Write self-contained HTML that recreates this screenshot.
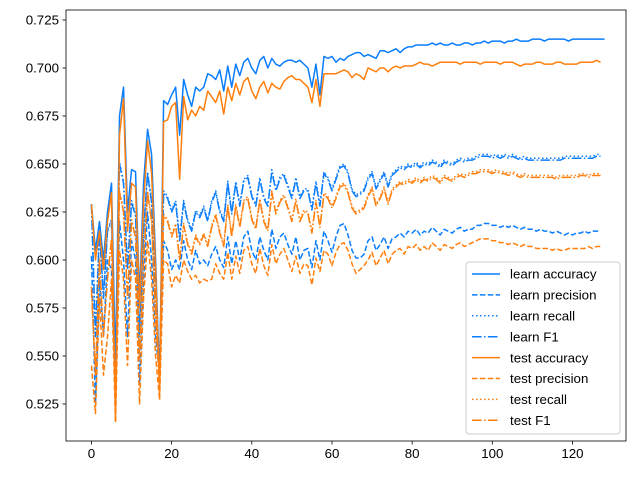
<!DOCTYPE html>
<html><head><meta charset="utf-8"><style>
body{margin:0;background:#fff;}
svg{display:block;font-family:"Liberation Sans","DejaVu Sans",sans-serif;}
</style></head><body>
<svg id="chart" width="640" height="480">
<rect width="640" height="480" fill="#fff"/>
<g id="axes"></g><g id="series"></g><g id="legend"></g>
<rect x="66" y="10" width="560" height="431" fill="none" stroke="#000" stroke-width="0.8"/>
</svg>
<script>
const seriesNames=["learn accuracy","learn precision","learn recall","learn F1","test accuracy","test precision","test recall","test F1"];
const learnAcc=[0.629,0.605,0.620,0.600,0.625,0.640,0.545,0.675,0.690,0.625,0.647,0.646,0.580,0.640,0.668,0.655,0.600,0.535,0.683,0.681,0.686,0.690,0.665,
0.694,0.686,0.680,0.690,0.688,0.690,0.697,0.696,0.694,0.699,0.688,0.701,0.690,0.702,0.696,0.703,0.705,0.700,0.697,0.704,0.706,0.700,0.705,0.702,0.701,0.703,0.704,0.704,0.703,0.704,0.702,0.700,0.690,0.702,0.686,0.706,0.705,
0.706,0.703,0.705,0.704,0.706,0.707,0.708,0.708,0.706,0.707,0.706,0.705,0.709,0.709,0.708,0.709,0.710,0.708,0.710,0.711,0.711,0.712,0.712,0.712,0.712,0.713,0.712,0.713,0.712,0.712,0.713,0.712,0.712,0.713,0.713,0.712,0.713,0.713,0.714,0.713,0.714,0.714,0.714,0.713,0.714,0.714,0.715,0.714,0.714,0.714,0.715,0.715,0.715,0.714,0.715,0.715,0.715,0.715,0.715,0.714,0.715,0.715,0.715,0.715,0.715,0.715,0.715,0.715,0.715];
const learnPrec=[0.602,0.525,0.590,0.560,0.600,0.595,0.530,0.620,0.600,0.560,0.610,0.600,0.535,0.590,0.625,0.600,0.560,0.540,0.610,0.605,0.595,0.600,0.595,
0.610,0.600,0.595,0.605,0.598,0.600,0.597,0.603,0.607,0.600,0.596,0.612,0.598,0.610,0.600,0.612,0.615,0.605,0.600,0.612,0.605,0.600,0.616,0.606,0.612,0.614,0.608,0.603,0.612,0.600,0.605,0.606,0.596,0.610,0.600,0.615,0.610,
0.604,0.612,0.618,0.619,0.613,0.605,0.601,0.601,0.603,0.610,0.612,0.605,0.608,0.612,0.606,0.611,0.612,0.614,0.612,0.615,0.614,0.616,0.613,0.615,0.614,0.617,0.615,0.613,0.616,0.615,0.614,0.616,0.617,0.615,0.616,0.616,0.618,0.618,0.619,0.619,0.618,0.618,0.617,0.618,0.617,0.618,0.617,0.616,0.617,0.616,0.616,0.615,0.616,0.615,0.615,0.614,0.615,0.614,0.613,0.614,0.613,0.614,0.614,0.615,0.614,0.615,0.615,0.615];
const learnF1=[0.629,0.560,0.615,0.580,0.615,0.620,0.540,0.650,0.640,0.595,0.630,0.623,0.560,0.615,0.645,0.630,0.580,0.545,0.635,0.632,0.625,0.630,0.610,
0.630,0.620,0.615,0.625,0.622,0.627,0.620,0.630,0.635,0.625,0.620,0.640,0.624,0.640,0.628,0.641,0.643,0.633,0.628,0.642,0.632,0.628,0.646,0.636,0.642,0.644,0.638,0.632,0.642,0.632,0.636,0.636,0.626,0.640,0.628,0.645,0.642,
0.636,0.642,0.648,0.649,0.645,0.636,0.633,0.634,0.636,0.642,0.645,0.637,0.641,0.645,0.638,0.644,0.646,0.648,0.647,0.649,0.648,0.650,0.648,0.650,0.649,0.651,0.650,0.648,0.651,0.650,0.649,0.651,0.652,0.651,0.652,0.652,0.653,0.654,0.654,0.654,0.653,0.654,0.653,0.654,0.653,0.654,0.653,0.652,0.653,0.652,0.652,0.652,0.652,0.652,0.652,0.652,0.652,0.652,0.653,0.653,0.653,0.653,0.653,0.653,0.653,0.653,0.654,0.654];
const learnRec=[0.629,0.562,0.616,0.582,0.616,0.621,0.542,0.651,0.641,0.597,0.631,0.624,0.562,0.616,0.646,0.631,0.582,0.547,0.636,0.633,0.626,0.631,0.612,
0.631,0.621,0.616,0.626,0.623,0.628,0.621,0.631,0.636,0.626,0.621,0.641,0.625,0.641,0.629,0.642,0.644,0.634,0.629,0.643,0.633,0.629,0.647,0.637,0.643,0.645,0.639,0.633,0.643,0.633,0.637,0.637,0.627,0.641,0.629,0.646,0.643,
0.637,0.643,0.649,0.650,0.646,0.637,0.634,0.635,0.637,0.643,0.646,0.638,0.642,0.646,0.639,0.645,0.647,0.649,0.648,0.650,0.649,0.651,0.649,0.651,0.650,0.652,0.651,0.649,0.652,0.651,0.650,0.652,0.653,0.652,0.653,0.653,0.654,0.655,0.655,0.655,0.654,0.655,0.654,0.655,0.654,0.655,0.654,0.653,0.654,0.653,0.653,0.653,0.653,0.653,0.653,0.653,0.653,0.653,0.654,0.654,0.654,0.654,0.654,0.654,0.654,0.654,0.655,0.655];
const testAcc=[0.629,0.600,0.615,0.595,0.620,0.635,0.516,0.665,0.684,0.615,0.640,0.638,0.575,0.630,0.662,0.645,0.595,0.530,0.672,0.673,0.680,0.682,0.642,
0.685,0.673,0.678,0.675,0.680,0.678,0.688,0.685,0.682,0.688,0.676,0.690,0.683,0.692,0.686,0.693,0.695,0.688,0.684,0.690,0.693,0.687,0.692,0.690,0.689,0.693,0.695,0.696,0.694,0.694,0.692,0.690,0.682,0.694,0.680,0.697,0.697,
0.697,0.697,0.698,0.699,0.698,0.695,0.697,0.696,0.694,0.700,0.699,0.698,0.700,0.700,0.698,0.700,0.701,0.700,0.701,0.701,0.701,0.702,0.703,0.702,0.702,0.701,0.702,0.703,0.703,0.703,0.703,0.703,0.702,0.703,0.703,0.703,0.703,0.702,0.703,0.703,0.703,0.703,0.702,0.703,0.703,0.703,0.702,0.701,0.702,0.702,0.702,0.703,0.703,0.702,0.702,0.702,0.703,0.703,0.702,0.702,0.702,0.702,0.703,0.703,0.703,0.703,0.704,0.703];
const testPrec=[0.545,0.520,0.580,0.540,0.560,0.590,0.515,0.605,0.590,0.545,0.600,0.590,0.525,0.580,0.610,0.590,0.550,0.527,0.600,0.598,0.586,0.592,0.588,
0.600,0.594,0.590,0.592,0.588,0.590,0.589,0.590,0.598,0.593,0.590,0.604,0.590,0.602,0.593,0.605,0.607,0.598,0.593,0.606,0.597,0.592,0.608,0.598,0.603,0.606,0.600,0.594,0.602,0.593,0.598,0.597,0.587,0.601,0.594,0.605,0.603,
0.597,0.604,0.608,0.609,0.605,0.598,0.593,0.595,0.597,0.600,0.604,0.597,0.601,0.605,0.598,0.603,0.605,0.606,0.603,0.607,0.606,0.608,0.605,0.607,0.605,0.609,0.607,0.605,0.608,0.607,0.606,0.608,0.609,0.607,0.608,0.609,0.610,0.611,0.611,0.611,0.610,0.610,0.609,0.609,0.608,0.609,0.608,0.607,0.608,0.607,0.607,0.606,0.606,0.606,0.606,0.605,0.606,0.605,0.605,0.606,0.606,0.606,0.606,0.606,0.607,0.606,0.607,0.607];
const testF1=[0.585,0.540,0.600,0.560,0.590,0.610,0.525,0.635,0.625,0.580,0.620,0.612,0.548,0.600,0.635,0.620,0.570,0.535,0.623,0.620,0.612,0.618,0.600,
0.618,0.608,0.603,0.612,0.608,0.613,0.607,0.617,0.623,0.614,0.607,0.628,0.612,0.628,0.617,0.630,0.632,0.621,0.616,0.631,0.620,0.615,0.635,0.624,0.630,0.633,0.627,0.620,0.631,0.620,0.625,0.624,0.614,0.630,0.617,0.634,0.632,
0.627,0.632,0.638,0.639,0.635,0.627,0.624,0.625,0.627,0.633,0.637,0.628,0.632,0.637,0.629,0.636,0.638,0.640,0.639,0.641,0.640,0.642,0.640,0.642,0.641,0.643,0.642,0.640,0.643,0.642,0.641,0.643,0.644,0.643,0.644,0.645,0.645,0.646,0.646,0.646,0.645,0.646,0.645,0.645,0.644,0.645,0.644,0.643,0.644,0.643,0.643,0.643,0.643,0.643,0.643,0.643,0.642,0.643,0.643,0.643,0.643,0.643,0.644,0.644,0.643,0.644,0.644,0.644];
const testRec=[0.586,0.541,0.601,0.561,0.591,0.611,0.526,0.636,0.626,0.581,0.621,0.613,0.549,0.601,0.636,0.621,0.571,0.536,0.624,0.621,0.613,0.619,0.601,
0.619,0.609,0.604,0.613,0.609,0.614,0.608,0.618,0.624,0.615,0.608,0.629,0.613,0.629,0.618,0.631,0.633,0.622,0.617,0.632,0.621,0.616,0.636,0.625,0.631,0.634,0.628,0.621,0.632,0.621,0.626,0.625,0.615,0.631,0.618,0.635,0.633,
0.628,0.633,0.639,0.640,0.636,0.628,0.625,0.626,0.628,0.634,0.638,0.629,0.633,0.638,0.630,0.637,0.639,0.641,0.640,0.642,0.641,0.643,0.641,0.643,0.642,0.644,0.643,0.641,0.644,0.643,0.642,0.644,0.645,0.644,0.645,0.646,0.646,0.647,0.647,0.647,0.646,0.647,0.646,0.646,0.645,0.646,0.645,0.644,0.645,0.644,0.644,0.644,0.644,0.644,0.644,0.644,0.643,0.644,0.644,0.644,0.644,0.644,0.645,0.645,0.644,0.645,0.645,0.645];
const xTicks=[0,20,40,60,80,100,120];
const yTicks=["0.525","0.550","0.575","0.600","0.625","0.650","0.675","0.700","0.725"];

const NS="http://www.w3.org/2000/svg";
const X0=66,X1=626,Y0=10,Y1=441,XMIN=-6.35,XMAX=133.35,YMIN=0.5057,YMAX=0.7302;
function sx(v){return X0+(v-XMIN)/(XMAX-XMIN)*(X1-X0);}
function sy(v){return Y1-(v-YMIN)/(YMAX-YMIN)*(Y1-Y0);}
function mk(tag,attrs,parent){const e=document.createElementNS(NS,tag);for(const k in attrs)e.setAttribute(k,attrs[k]);parent.appendChild(e);return e;}
const axes=document.getElementById('axes');
xTicks.forEach(t=>{
  const x=sx(t);
  const l=mk('line',{x1:x,x2:x,y1:Y1,y2:Y1+3.5,stroke:'#000','stroke-width':0.8},axes);
  
  
  const tx=mk('text',{x:x,y:Y1+17,'text-anchor':'middle','font-size':'13.3'},axes);
  tx.textContent=String(t);
  
  
});
yTicks.forEach(t=>{
  const y=sy(parseFloat(t));
  const l=mk('line',{x1:X0-3.5,x2:X0,y1:y,y2:y,stroke:'#000','stroke-width':0.8},axes);
  
  
  const tx=mk('text',{x:X0-7,y:y+4.5,'text-anchor':'end','font-size':'13.3'},axes);
  tx.textContent=t;
  
  
});
const BLUE='#0a7dfc',ORANGE='#ff7f0e';
const DASH=['', '5.5,2.4', '1.5,2.5', '9.6,2.4,1.5,2.4'];
const data=[learnAcc,learnPrec,learnRec,learnF1,testAcc,testPrec,testRec,testF1];
const sg=document.getElementById('series');
data.forEach((arr,i)=>{
  const pts=arr.map((v,j)=>sx(j).toFixed(2)+','+sy(v).toFixed(2)).join(' ');
  const p=mk('polyline',{points:pts,fill:'none',stroke:i<4?BLUE:ORANGE,'stroke-width':1.5,'stroke-dasharray':DASH[i%4],'stroke-linejoin':'round'},sg);
  
  
});
const lg=document.getElementById('legend');
const box=mk('rect',{x:466,y:262,width:154,height:172,rx:3,fill:'#fff','fill-opacity':0.8,stroke:'#ccc','stroke-width':1},lg);


seriesNames.forEach((n,i)=>{
  const y=274+i*20.9;
  const l=mk('line',{x1:472,x2:500,y1:y,y2:y,stroke:i<4?BLUE:ORANGE,'stroke-width':1.5,'stroke-dasharray':DASH[i%4]},lg);
  
  
  const t=mk('text',{x:510,y:y+4.7,'font-size':'13.3'},lg);
  t.textContent=n;
  
  
});
</script>
</body></html>
